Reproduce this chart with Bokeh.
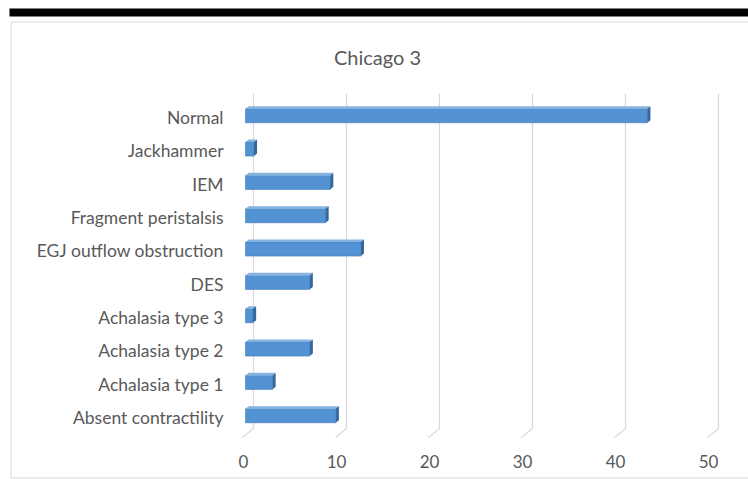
from bokeh.plotting import figure
from bokeh.models import Range1d
from bokeh.core.properties import value
from bokeh.embed import file_html
from bokeh.resources import INLINE

# ---- data (top to bottom as shown) ----
categories = ["Normal", "Jackhammer", "IEM", "Fragment peristalsis",
              "EGJ outflow obstruction", "DES", "Achalasia type 3",
              "Achalasia type 2", "Achalasia type 1", "Absent contractility"]
values_pct = [43.2, 0.9, 9.1, 8.6, 12.4, 6.9, 0.8, 6.9, 2.9, 9.7]
tick_values = [0, 10, 20, 30, 40, 50]
tick_labels = ["0", "10", "20", "30", "40", "50"]
chart_title = "Chicago 3"

# ---- layout constants (canvas pixels) ----
W, H = 748, 479
ORIGIN_PX = 245.0      # x of value 0 (bar front)
PX_PER_UNIT = 9.3
ROW_PX = 33.333
BASE_ROW_PY = 417.0    # y of last category centre


def xd(px):
    return (px - ORIGIN_PX) / PX_PER_UNIT


def yd(py):
    return (BASE_ROW_PY - py) / ROW_PX


p = figure(width=W, height=H, x_range=Range1d(xd(0), xd(W)),
           y_range=Range1d(yd(H), yd(0)), min_border=0,
           x_axis_location=None, y_axis_location=None,
           toolbar_location=None, output_backend="svg")
p.grid.visible = False
p.outline_line_color = None
p.background_fill_color = "white"
p.border_fill_color = "white"

GRID = "#D9D9D9"
TXT = "#595959"

# black band at the top and chart-area border (left, top, bottom)
p.quad(left=[xd(9)], right=[xd(W) + 2], top=[yd(8)], bottom=[yd(16)],
       fill_color="black", line_color=None)
p.segment(x0=[xd(10.5), xd(10.5), xd(10.5)],
          y0=[yd(21.5), yd(21.5), yd(477.5)],
          x1=[xd(10.5), xd(W) + 5, xd(W) + 5],
          y1=[yd(477.5), yd(21.5), yd(477.5)],
          line_color=GRID, line_width=1)

# gridlines (back wall + floor diagonals)
back_dx = 8 / PX_PER_UNIT
floor_dx = -11 / PX_PER_UNIT
gx_back = [t + back_dx for t in tick_values]
p.segment(x0=gx_back, y0=[yd(93)] * len(gx_back), x1=gx_back,
          y1=[yd(428)] * len(gx_back), line_color=GRID, line_width=1.2)
p.segment(x0=gx_back, y0=[yd(428)] * len(gx_back),
          x1=[g + floor_dx for g in gx_back], y1=[yd(437)] * len(gx_back),
          line_color=GRID, line_width=1.2)

# bars with a 3-D look
n = len(categories)
rows = [n - 1 - i for i in range(n)]
face_c = [r + 1.75 / ROW_PX for r in rows]
face_h = 14 / ROW_PX
dx = 3.2 / PX_PER_UNIT
dy = 2.6 / ROW_PX

p.hbar(y=face_c, left=0, right=values_pct, height=face_h,
       fill_color="#5393D3", line_color="#3F7CBB", line_width=0.6)

top_xs, top_ys, side_xs, side_ys = [], [], [], []
for c, v in zip(face_c, values_pct):
    yt = c + face_h / 2
    yb = c - face_h / 2
    top_xs.append([0, v, v + dx, dx])
    top_ys.append([yt, yt, yt + dy, yt + dy])
    side_xs.append([v, v, v + dx, v + dx])
    side_ys.append([yb, yt, yt + dy, yb + dy])
p.patches(xs=top_xs, ys=top_ys, fill_color="#86B3E0", line_color=None)
p.patches(xs=side_xs, ys=side_ys, fill_color="#35699E", line_color=None)

# category labels
p.text(x=[0] * n, y=rows, text=categories, x_offset=-22,
       text_align="right", text_baseline="middle",
       text_font=value("Lato"), text_font_size="17.5px", text_color=TXT)

# value axis labels
p.text(x=tick_values, y=[yd(461)] * len(tick_values), text=tick_labels,
       x_offset=-2, text_align="center", text_baseline="middle",
       text_font=value("Lato"), text_font_size="17px", text_color=TXT)

# title
p.text(x=[xd(377)], y=[yd(56)], text=[chart_title], text_align="center",
       text_baseline="middle", text_font=value("Lato"),
       text_font_size="20px", text_color=TXT)

open("out.html", "w").write(file_html(p, INLINE))
